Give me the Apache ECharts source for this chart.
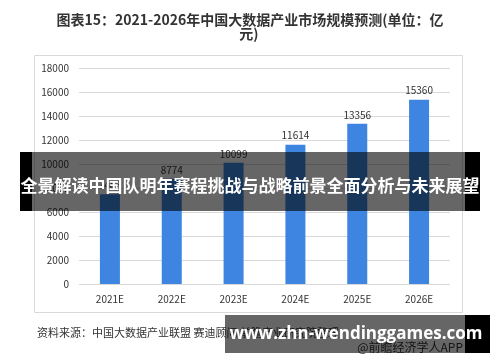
<!DOCTYPE html>
<html>
<head>
<meta charset="utf-8">
<script src="https://cdn.jsdelivr.net/npm/echarts@6/dist/echarts.min.js"></script>
<style>
html,body{margin:0;padding:0;background:#fff;}
#c{width:500px;height:362px;}
</style>
</head>
<body>
<div id="c"></div>
<script>
const categories = ['2021E','2022E','2023E','2024E','2025E','2026E'];
const values = [7483, 8774, 10099, 11614, 13356, 15360];
const yTicks = [0, 2000, 4000, 6000, 8000, 10000, 12000, 14000, 16000, 18000];
const titleLines = ['图表15：2021-2026年中国大数据产业市场规模预测(单位：亿', '元)'];
const sourceText = '资料来源：中国大数据产业联盟 赛迪顾问 前瞻产业研究院整理';
const bannerText = '全景解读中国队明年赛程挑战与战略前景全面分析与未来展望';
const siteText = 'www.zhn-wendinggames.com';
const appText = '@前瞻经济学人APP';

const FONT = '"Noto Sans CJK SC", "Noto Sans", sans-serif';
const chart = echarts.init(document.getElementById('c'), null, {renderer: 'canvas'});
chart.setOption({
  animation: false,
  textStyle: {fontFamily: FONT},
  grid: {left: 79, right: 50, top: 68, bottom: 78, containLabel: false},
  xAxis: {
    type: 'category',
    data: categories,
    axisLine: {show: false},
    axisTick: {show: false},
    axisLabel: {color: '#333', fontSize: 10, margin: 10, fontFamily: FONT}
  },
  yAxis: {
    type: 'value',
    min: 0, max: 18000, interval: 2000,
    axisLine: {show: false},
    axisTick: {show: false},
    splitLine: {lineStyle: {color: '#d9d9d9', width: 1}},
    axisLabel: {color: '#333', fontSize: 10, margin: 10, fontFamily: FONT,
      formatter: v => yTicks.includes(v) ? String(v) : ''}
  },
  series: [{
    type: 'bar',
    data: values,
    barWidth: 20,
    itemStyle: {color: '#3d85e0'},
    label: {show: true, position: 'top', distance: 4, color: '#333', fontSize: 10, fontFamily: FONT}
  }],
  graphic: [
    {type: 'text', z: 50, x: 250, y: 20,
      style: {text: titleLines[0], fill: '#333', font: 'bold 14px ' + FONT, align: 'center', verticalAlign: 'middle'}},
    {type: 'text', z: 50, x: 249, y: 34,
      style: {text: titleLines[1], fill: '#333', font: 'bold 14px ' + FONT, align: 'center', verticalAlign: 'middle'}},
    {type: 'rect', z: -10, shape: {x: 34.5, y: 55.5, width: 428, height: 257},
      style: {fill: '#fff', stroke: '#d9d9d9', lineWidth: 1}},
    {type: 'text', z: 50, left: 37, top: 327,
      style: {text: sourceText, fill: '#333', font: '11px ' + FONT}},
    {type: 'text', z: 50, right: 37, top: 341,
      style: {text: appText, fill: '#333', font: '12px ' + FONT}},
    {type: 'rect', z: 100, shape: {x: 20, y: 152, width: 460, height: 59},
      style: {fill: 'rgba(0,0,0,0.6)'}},
    {type: 'rect', z: 100, shape: {x: 20, y: 152, width: 12, height: 59},
      style: {fill: '#000'}},
    {type: 'rect', z: 100, shape: {x: 465, y: 152, width: 15, height: 59},
      style: {fill: '#000'}},
    {type: 'text', z: 101, x: 250, y: 186,
      style: {text: bannerText, fill: '#fff', font: 'bold 17px ' + FONT, align: 'center', verticalAlign: 'middle'}},
    {type: 'rect', z: 100, shape: {x: 225, y: 315, width: 241, height: 38},
      style: {fill: 'rgba(0,0,0,0.6)'}},
    {type: 'rect', z: 100, shape: {x: 465, y: 315, width: 25, height: 38},
      style: {fill: '#000'}},
    {type: 'text', z: 101, x: 356, y: 334,
      style: {text: siteText, fill: '#fff', font: 'bold 17px "Open Sans", "Noto Sans", sans-serif', align: 'center', verticalAlign: 'middle'}}
  ]
});
</script>
</body>
</html>
